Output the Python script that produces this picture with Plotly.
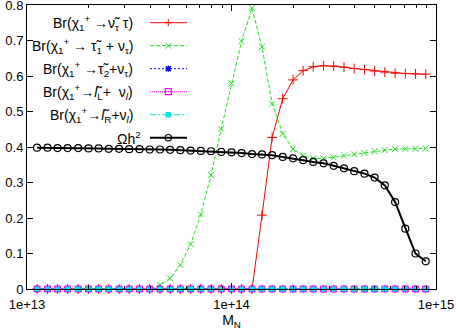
import plotly.graph_objects as go

# ---------------- data ----------------
M_N = [1.12e13, 1.26e13, 1.41e13, 1.58e13, 1.78e13, 2.00e13, 2.24e13, 2.51e13, 2.82e13, 3.16e13,
       3.55e13, 3.98e13, 4.47e13, 5.01e13, 5.62e13, 6.31e13, 7.08e13, 7.94e13, 8.91e13,
       1.00e14, 1.12e14, 1.26e14, 1.41e14, 1.58e14, 1.78e14, 2.00e14, 2.24e14, 2.51e14, 2.82e14,
       3.16e14, 3.55e14, 3.98e14, 4.47e14, 5.01e14, 5.62e14, 6.31e14, 7.08e14, 7.94e14, 8.91e14]

br_sneutrino_tau = [0, 0, 0, 0, 0, 0, 0, 0, 0, 0, 0, 0, 0, 0, 0, 0, 0, 0, 0, 0, 0, 0,
                    0.208, 0.427, 0.536, 0.589, 0.615, 0.626, 0.629, 0.628, 0.625, 0.621,
                    0.618, 0.614, 0.611, 0.608, 0.607, 0.606, 0.605]

br_stau1_nu = [0, 0, 0, 0, 0, 0, 0, 0, 0, 0, 0, 0,
               0.011, 0.030, 0.068, 0.126, 0.210, 0.321, 0.451, 0.579, 0.698, 0.791, 0.682,
               0.522, 0.437, 0.394, 0.376, 0.368, 0.368, 0.371, 0.376, 0.379, 0.383, 0.388,
               0.391, 0.394, 0.395, 0.395, 0.396]

br_stau2_nu = [0] * 39
br_slepL_nu = [0] * 39
br_slepR_nu = [0] * 39

omega_h2 = [0.398, 0.398, 0.397, 0.397, 0.397, 0.396, 0.396, 0.395, 0.395, 0.394, 0.394, 0.393,
            0.393, 0.392, 0.391, 0.390, 0.389, 0.388, 0.386, 0.385, 0.383, 0.380, 0.379, 0.377,
            0.372, 0.368, 0.363, 0.358, 0.354, 0.347, 0.340, 0.332, 0.325, 0.314, 0.292, 0.245,
            0.170, 0.100, 0.078]

X_TICKS = [1e13, 1e14, 1e15]
X_TICK_TEXT = ["1e+13", "1e+14", "1e+15"]
X_MINOR = [k * d for d in (1e13, 1e14) for k in range(2, 10)]
Y_TICKS = [0, 0.1, 0.2, 0.3, 0.4, 0.5, 0.6, 0.7, 0.8]

LABELS = [
    "Br(χ<sub>1</sub><sup>+</sup> →ν\u0303<sub>τ</sub> τ)",
    "Br(χ<sub>1</sub><sup>+</sup> → τ\u0303<sub>1</sub> + ν<sub>τ</sub>)",
    "Br(χ<sub>1</sub><sup>+</sup> →τ\u0303<sub>2</sub>+ν<sub>τ</sub>)",
    "Br(χ<sub>1</sub><sup>+</sup>→<i>l</i>\u0303<sub>L</sub>+  ν<sub><i>l</i></sub>)",
    "Br(χ<sub>1</sub><sup>+</sup>→<i>l</i>\u0303<sub>R</sub>+ν<sub><i>l</i></sub>)",
    "Ωh<sup>2</sup>",
]

RED, GREEN, BLUE, MAG, CYAN, BLACK = "#ff0000", "#22e022", "#0000ff", "#ff00ff", "#00e5e5", "#000000"

# ---------------- figure ----------------
W, H = 456, 330
L, R, T, B = 27, 20, 5, 41
PW, PH = W - L - R, H - T - B

fig = go.Figure()

series = [
    (br_sneutrino_tau, RED, "solid", 1, dict(symbol="cross-thin", size=7, line=dict(color=RED, width=1))),
    (br_stau1_nu, GREEN, "4px,2px", 1, dict(symbol="x-thin", size=6, line=dict(color=GREEN, width=1))),
    (br_stau2_nu, BLUE, "2px,2px", 1, dict(symbol="asterisk", size=6, line=dict(color=BLUE, width=1.5))),
    (br_slepL_nu, MAG, "1px,1px", 1, dict(symbol="square-open", size=6, line=dict(color=MAG, width=1))),
    (br_slepR_nu, CYAN, "6px,2px,2px,2px", 1, dict(symbol="square", size=5, color=CYAN, line=dict(width=0))),
    (omega_h2, BLACK, "solid", 2, dict(symbol="circle-open", size=7, color=BLACK, line=dict(color=BLACK, width=1.2))),
]
for (vals, col, dash, lw, mk), name in zip(series, LABELS):
    fig.add_trace(go.Scatter(x=M_N, y=vals, mode="lines+markers", name=name,
                             line=dict(color=col, dash=dash, width=lw), marker=mk,
                             showlegend=False, cliponaxis=False, hoverinfo="skip"))

# ---------------- gnuplot-style key (right-aligned text, sample to the right) ----------------
def px2paper_x(px):
    return (px - L) / PW

def py2paper_y(py):
    return (H - B - py) / PH

annotations = []
shapes = []
row_y = [22.7, 45.7, 68.7, 91.7, 114.7, 137.7]
text_right = [135, 135, 135, 135, 135, 143]
x0s, x1s, xm = px2paper_x(150), px2paper_x(187), px2paper_x(168.3)
for i, (lab, (vals, col, dash, lw, mk)) in enumerate(zip(LABELS, series)):
    yy = py2paper_y(row_y[i])
    annotations.append(dict(x=px2paper_x(text_right[i]), y=yy, xref="paper", yref="paper",
                            text=lab, showarrow=False, xanchor="right", yanchor="middle",
                            font=dict(size=14, color="black")))
    shapes.append(dict(type="line", xref="paper", yref="paper", x0=x0s, x1=x1s, y0=yy, y1=yy,
                       line=dict(color=col, width=lw, dash=dash)))
    def pl(dx0, dy0, dx1, dy1, w=1):
        shapes.append(dict(type="line", xref="paper", yref="paper", xsizemode="pixel", ysizemode="pixel",
                           xanchor=xm, yanchor=yy, x0=dx0, x1=dx1, y0=dy0, y1=dy1,
                           line=dict(color=col, width=w)))
    if i == 0:
        pl(-3.5, 0, 3.5, 0); pl(0, -3.5, 0, 3.5)
    elif i == 1:
        pl(-3, -3, 3, 3); pl(-3, 3, 3, -3)
    elif i == 2:
        pl(-3, 0, 3, 0, 1.5); pl(-2.5, -2.5, 2.5, 2.5, 1.5); pl(-2.5, 2.5, 2.5, -2.5, 1.5); pl(0, -3, 0, 3, 1.5)
    else:
        kind = {3: "rect", 4: "rect", 5: "circle"}[i]
        half = {3: 3, 4: 2.7, 5: 3.2}[i]
        shapes.append(dict(type=kind, xref="paper", yref="paper", xsizemode="pixel", ysizemode="pixel",
                           xanchor=xm, yanchor=yy, x0=-half, x1=half, y0=-half, y1=half,
                           fillcolor=(CYAN if i == 4 else "rgba(0,0,0,0)"),
                           line=dict(color=col, width=(0 if i == 4 else 1.2))))

font_family = "Liberation Sans, Arial, Helvetica, sans-serif"
fig.update_layout(
    width=W, height=H,
    margin=dict(l=L, r=R, t=T, b=B, autoexpand=False),
    paper_bgcolor="white", plot_bgcolor="white",
    font=dict(family=font_family, size=13, color="black"),
    annotations=annotations, shapes=shapes,
    showlegend=False, hovermode=False,
)
fig.update_xaxes(type="log", range=[13, 15], showgrid=False, zeroline=False, automargin=False,
                 showline=True, linecolor="black", linewidth=1, mirror="ticks",
                 ticks="inside", ticklen=6, tickcolor="black", ticklabeloverflow="allow",
                 ticklabelstandoff=3,
                 tickvals=X_TICKS, ticktext=X_TICK_TEXT, tickfont=dict(size=13),
                 minor=dict(tickvals=X_MINOR, ticks="inside", ticklen=3, tickcolor="black", showgrid=False),
                 title=dict(text="M<sub>N</sub>", font=dict(size=14), standoff=2))
fig.update_yaxes(range=[0, 0.8], showgrid=False, zeroline=False, automargin=False,
                 showline=True, linecolor="black", linewidth=1, mirror="ticks",
                 ticks="inside", ticklen=6, tickcolor="black", ticklabeloverflow="allow",
                 tickvals=Y_TICKS, ticktext=[("0" if v == 0 else f"{v:.1f}") for v in Y_TICKS],
                 tickfont=dict(size=13))

fig.write_html("out.html", config={"displayModeBar": False},
               post_script="document.body.style.margin='0';document.body.style.padding='0';")
